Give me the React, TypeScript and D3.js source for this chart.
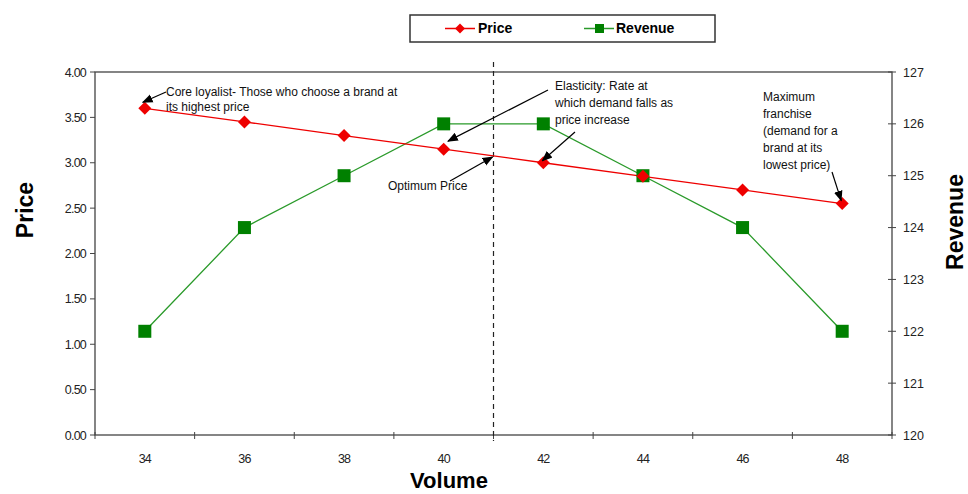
import React from "react";
import * as d3 from "d3";

const volumes = [34, 36, 38, 40, 42, 44, 46, 48];
const priceValues = [3.6, 3.45, 3.3, 3.15, 3.0, 2.85, 2.7, 2.55];
const revenueValues = [122, 124, 125, 126, 126, 125, 124, 122];
const priceTicks = [0, 0.5, 1, 1.5, 2, 2.5, 3, 3.5, 4];
const revenueTicks = [120, 121, 122, 123, 124, 125, 126, 127];

const W = 968;
const H = 494;
const left = 95;
const right = 892;
const top = 72;
const bottom = 435;

const FONT = "Liberation Sans, Arial, sans-serif";

export default function App() {
  const x = d3.scaleBand<number>().domain(volumes).range([left, right]);
  const cx = (v: number) => (x(v) as number) + x.bandwidth() / 2;
  const yP = d3.scaleLinear().domain([0, 4]).range([bottom, top]);
  const yR = d3.scaleLinear().domain([120, 127]).range([bottom, top]);

  const priceLine = d3
    .line<number>()
    .x((_, i) => cx(volumes[i]))
    .y((d) => yP(d));
  const revLine = d3
    .line<number>()
    .x((_, i) => cx(volumes[i]))
    .y((d) => yR(d));

  // optimum volume sits on the band boundary between 40 and 42
  const optX = x(42) as number;
  const optPrice = (priceValues[3] + priceValues[4]) / 2;

  const diamond = (px: number, py: number, r: number) =>
    `M${px},${py - r}L${px + r},${py}L${px},${py + r}L${px - r},${py}Z`;

  const bandEdges = volumes.map((v) => x(v) as number).concat([right]);

  const annoStyle = { fontFamily: FONT, fontSize: 12, fill: "#111" };
  const tickStyle = { fontFamily: FONT, fontSize: 12.5, fill: "#222" };
  const titleStyle = { fontFamily: FONT, fontSize: 23, fontWeight: "bold" as const };

  return (
    <svg width={W} height={H} style={{ position: "absolute", left: 0, top: 0, background: "#fff" }}>
      <defs>
        <marker id="arr" viewBox="0 0 10 10" refX="9" refY="5" markerWidth="9" markerHeight="9" orient="auto-start-reverse">
          <path d="M0,1L10,5L0,9Z" fill="#000" />
        </marker>
      </defs>

      {/* legend */}
      <rect x={410} y={15} width={305} height={27} fill="#fff" stroke="#333" strokeWidth={1.5} />
      <line x1={445} x2={475} y1={28.5} y2={28.5} stroke="#e00" strokeWidth={1.5} />
      <path d={diamond(460, 28.5, 5)} fill="#e00" />
      <text x={478} y={33} style={{ fontFamily: FONT, fontSize: 14, fontWeight: "bold" }}>Price</text>
      <line x1={584} x2={614} y1={28.5} y2={28.5} stroke="#2a9a2a" strokeWidth={1.5} />
      <rect x={595} y={24} width={9} height={9} fill="#008000" />
      <text x={616} y={33} style={{ fontFamily: FONT, fontSize: 14, fontWeight: "bold" }}>Revenue</text>

      {/* plot frame */}
      <rect x={left} y={top} width={right - left} height={bottom - top} fill="none" stroke="#444" strokeWidth={1.3} />

      {/* left axis */}
      {priceTicks.map((t) => (
        <g key={"p" + t}>
          <line x1={left - 5} x2={left} y1={yP(t)} y2={yP(t)} stroke="#444" />
          <text x={left - 9} y={yP(t) + 4.5} textAnchor="end" style={{ ...tickStyle, letterSpacing: -0.8 }}>
            {t.toFixed(2)}
          </text>
        </g>
      ))}
      {/* right axis */}
      {revenueTicks.map((t) => (
        <g key={"r" + t}>
          <line x1={right - 4} x2={right + 4} y1={yR(t)} y2={yR(t)} stroke="#444" />
          <text x={right + 11} y={yR(t) + 4.5} style={tickStyle}>
            {t}
          </text>
        </g>
      ))}
      {/* bottom axis */}
      {bandEdges.map((e, i) => (
        <line key={"b" + i} x1={e} x2={e} y1={bottom - 3} y2={bottom + 4} stroke="#444" />
      ))}
      {volumes.map((v) => (
        <text key={"v" + v} x={cx(v)} y={bottom + 28} textAnchor="middle" style={{ ...tickStyle, letterSpacing: -0.8 }}>
          {v}
        </text>
      ))}

      {/* axis titles */}
      <text transform="translate(33,210) rotate(-90)" textAnchor="middle" style={titleStyle}>
        Price
      </text>
      <text transform="translate(963,222) rotate(-90)" textAnchor="middle" style={titleStyle}>
        Revenue
      </text>
      <text x={449} y={488} textAnchor="middle" style={{ ...titleStyle, fontSize: 22 }}>
        Volume
      </text>

      {/* optimum dashed line */}
      <line x1={optX} x2={optX} y1={62} y2={441} stroke="#222" strokeWidth={1.2} strokeDasharray="5,4" />

      {/* series */}
      <path d={revLine(revenueValues) as string} fill="none" stroke="#2a9a2a" strokeWidth={1.3} />
      <path d={priceLine(priceValues) as string} fill="none" stroke="#e00" strokeWidth={1.3} />
      {revenueValues.map((r, i) => (
        <rect key={"rs" + i} x={cx(volumes[i]) - 6.5} y={yR(r) - 6.5} width={13} height={13} fill="#008000" />
      ))}
      {priceValues.map((p, i) => (
        <path key={"pd" + i} d={diamond(cx(volumes[i]), yP(p), 6.5)} fill="#e00" />
      ))}

      {/* annotations */}
      <line x1={166} y1={92} x2={cx(34) - 2} y2={yP(3.6) - 6} stroke="#000" strokeWidth={1.2} markerEnd="url(#arr)" />
      <text x={166} y={96} style={annoStyle}>Core loyalist- Those who choose a brand at</text>
      <text x={166} y={111} style={annoStyle}>its highest price</text>

      <text style={annoStyle}>
        <tspan x={555} y={90}>Elasticity: Rate at</tspan>
        <tspan x={555} y={107}>which demand falls as</tspan>
        <tspan x={555} y={124}>price increase</tspan>
      </text>
      <line x1={548} y1={90} x2={448} y2={yP(3.15) - 8} stroke="#000" strokeWidth={1.2} markerEnd="url(#arr)" />
      <line x1={575} y1={132} x2={cx(42) - 1} y2={yP(3.0) - 2} stroke="#000" strokeWidth={1.2} markerEnd="url(#arr)" />

      <text x={388} y={190} style={annoStyle}>Optimum Price</text>
      <line x1={450} y1={181} x2={optX - 1} y2={yP(optPrice) + 1} stroke="#000" strokeWidth={1.2} markerEnd="url(#arr)" />

      <text style={annoStyle}>
        <tspan x={763} y={101}>Maximum</tspan>
        <tspan x={763} y={118}>franchise</tspan>
        <tspan x={763} y={135}>(demand for a</tspan>
        <tspan x={763} y={152}>brand at its</tspan>
        <tspan x={763} y={169}>lowest price)</tspan>
      </text>
      <line x1={832} y1={172} x2={cx(48) - 1} y2={yP(2.55) - 3} stroke="#000" strokeWidth={1.2} markerEnd="url(#arr)" />
    </svg>
  );
}
